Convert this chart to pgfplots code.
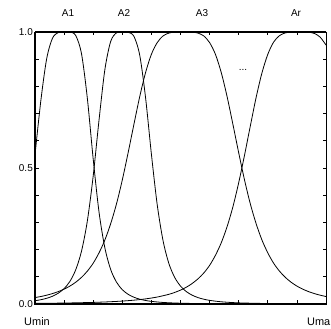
\documentclass[border=0pt]{standalone}
\usepackage{pgfplots}
\pgfplotsset{compat=1.18}
\usepackage{fontspec}
\setmainfont{Liberation Sans}
\begin{document}
\begin{tikzpicture}
\begin{axis}[
 name=ax, at={(0,0)}, anchor=south west,
 scale only axis, width=291bp, height=272bp,
 xmin=0,xmax=1,ymin=0,ymax=1,
 clip=false,
 axis line style={line width=0.9bp},
 xtick={0,0.1,0.2,0.3,0.4,0.5,0.6,0.7,0.8,0.9,1},
 xticklabels={},
 ytick={0,0.1,0.2,0.3,0.4,0.5,0.6,0.7,0.8,0.9,1},
 yticklabels={0.0,,,,,0.5,,,,,1.0},
 tick align=inside, major tick length=3.5bp,
 tick style={black, line width=0.7bp},
 yticklabel style={font=\fontsize{10}{11}\selectfont, inner sep=2pt},
 /pgf/number format/assume math mode=true,
 cycle list={{black}},
 every axis plot/.append style={black, line width=0.8bp, smooth, no markers},
]
% A1
\addplot coordinates {(0,0.548)(0.02,0.747)(0.04,0.901)(0.06,0.977)(0.08,0.998)(0.10,1.0)(0.12,1.0)(0.14,0.987)(0.16,0.919)(0.18,0.755)(0.20,0.533)(0.22,0.338)(0.24,0.207)(0.26,0.127)(0.28,0.0805)(0.30,0.0526)(0.32,0.0356)(0.34,0.0248)(0.36,0.0177)(0.38,0.013)(0.40,0.0097)(0.44,0.0057)(0.50,0.0029)(0.60,0.0011)(0.70,0.0005)(0.85,0.0002)(1.0,0.0001)};
% A2
\addplot coordinates {(0,0.012)(0.02,0.0157)(0.04,0.021)(0.06,0.0285)(0.08,0.0397)(0.10,0.0567)(0.12,0.0832)(0.14,0.126)(0.16,0.195)(0.18,0.306)(0.20,0.471)(0.22,0.676)(0.24,0.861)(0.26,0.965)(0.28,0.997)(0.30,1.0)(0.32,0.999)(0.34,0.984)(0.36,0.914)(0.38,0.758)(0.40,0.551)(0.42,0.365)(0.44,0.233)(0.46,0.149)(0.48,0.0978)(0.50,0.0658)(0.52,0.0456)(0.54,0.0325)(0.56,0.0236)(0.58,0.0176)(0.60,0.0134)(0.64,0.0081)(0.70,0.0042)(0.80,0.0017)(0.90,0.0008)(1.0,0.0004)};
% A3
\addplot coordinates {(0,0.0236)(0.02,0.0275)(0.04,0.0324)(0.06,0.0383)(0.08,0.0456)(0.10,0.0546)(0.12,0.0659)(0.14,0.0801)(0.16,0.0981)(0.18,0.121)(0.20,0.150)(0.22,0.188)(0.24,0.235)(0.26,0.295)(0.28,0.368)(0.30,0.456)(0.32,0.556)(0.34,0.661)(0.36,0.763)(0.38,0.851)(0.40,0.918)(0.42,0.961)(0.44,0.9855)(0.46,0.996)(0.48,0.9995)(0.50,1.0)(0.52,1.0)(0.54,0.9995)(0.56,0.996)(0.58,0.9855)(0.60,0.961)(0.62,0.918)(0.64,0.851)(0.66,0.763)(0.68,0.661)(0.70,0.556)(0.72,0.456)(0.74,0.368)(0.76,0.295)(0.78,0.235)(0.80,0.188)(0.82,0.150)(0.84,0.121)(0.86,0.0981)(0.88,0.0801)(0.90,0.0659)(0.92,0.0546)(0.94,0.0456)(0.96,0.0383)(0.98,0.0324)(1.0,0.0275)};
% Ar
\addplot coordinates {(0,0.0022)(0.10,0.0035)(0.20,0.0059)(0.26,0.0084)(0.30,0.0108)(0.34,0.0141)(0.38,0.0188)(0.42,0.0256)(0.46,0.0356)(0.48,0.0425)(0.50,0.051)(0.52,0.0617)(0.54,0.0753)(0.56,0.0924)(0.58,0.114)(0.60,0.142)(0.62,0.179)(0.64,0.225)(0.66,0.284)(0.68,0.357)(0.70,0.446)(0.72,0.547)(0.74,0.655)(0.76,0.760)(0.78,0.850)(0.80,0.918)(0.82,0.963)(0.84,0.9865)(0.86,0.9967)(0.88,0.9997)(0.90,1.0)(0.92,1.0)(0.94,0.9992)(0.96,0.9947)(0.98,0.981)(1.0,0.952)};
\end{axis}
\draw[line width=1.8bp] (ax.north west) -- (ax.south west) -- (ax.south east);
\draw[line width=1.3bp] (ax.north west) -- (ax.north east);
\begin{scope}[shift={(ax.south west)}, x=1bp, y=1bp]
\node[font=\fontsize{10}{11}\selectfont] at (33,291) {A1};
\node[font=\fontsize{10}{11}\selectfont] at (89,291) {A2};
\node[font=\fontsize{10}{11}\selectfont] at (167,291) {A3};
\node[font=\fontsize{10}{11}\selectfont] at (261,291) {Ar};
\node[font=\fontsize{10}{11}\selectfont] at (208,234) {...};
\node[font=\fontsize{11}{12}\selectfont] at (2,-18) {Umin};
\node[font=\fontsize{11}{12}\selectfont, anchor=east, inner sep=0pt] at (295.5,-18) {Uma};
\end{scope}
\pgfresetboundingbox
\path[use as bounding box] ([xshift=-35bp,yshift=-25bp]ax.south west) rectangle ([xshift=296bp,yshift=304bp]ax.south west);
\end{tikzpicture}
\end{document}
